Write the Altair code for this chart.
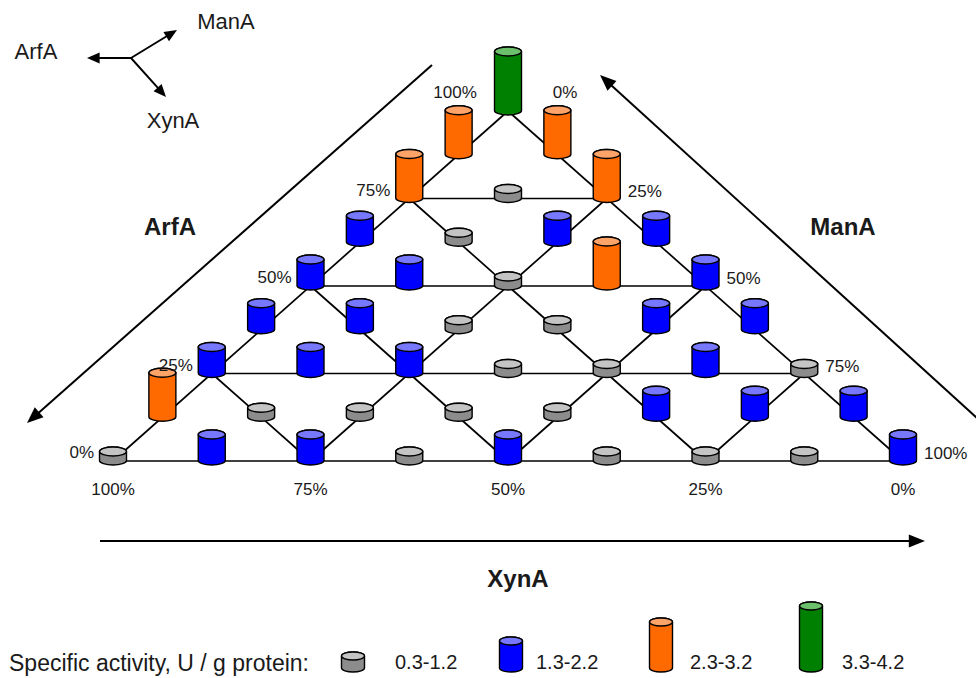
import math

import altair as alt
import pandas as pd

# ---------------------------------------------------------------------------
# Data: specific activity class of every mixture on the 1/8 simplex lattice.
# Rows run from ArfA = 0 % (bottom edge) to ArfA = 100 % (apex); inside a row
# ManA rises from 0 % (left) in 12.5 % steps, XynA makes up the rest.
# ---------------------------------------------------------------------------
CLASSES = ["0.3-1.2", "1.3-2.2", "2.3-3.2", "3.3-4.2"]
G, B, O, V = CLASSES

ACTIVITY_ROWS = [
    [G, B, B, G, B, G, G, G, B],   # ArfA 0 %
    [O, G, G, G, G, B, B, B],      # ArfA 12.5 %
    [B, B, B, G, G, B, G],         # ArfA 25 %
    [B, B, G, G, B, B],            # ArfA 37.5 %
    [B, B, G, O, B],               # ArfA 50 %
    [B, G, B, B],                  # ArfA 62.5 %
    [O, G, O],                     # ArfA 75 %
    [O, O],                        # ArfA 87.5 %
    [V],                           # ArfA 100 %
]
STEP = 12.5

XYNA_TICKS = [100, 75, 50, 25, 0]   # bottom edge, left to right
ARFA_TICKS = [0, 25, 50, 75, 100]   # left edge, bottom to apex
MANA_TICKS = [100, 75, 50, 25, 0]   # right edge, bottom to apex
GRID_LEVELS = [0, 25, 50, 75]

# ---------------------------------------------------------------------------
# Layout and style
# ---------------------------------------------------------------------------
WIDTH, HEIGHT = 976, 678
X0, Y0 = 113, 461          # canvas position of the XynA = 100 % corner
SIDE_W, SIDE_H = 790, 350  # horizontal span and height of the triangle

BODY_COLOR = {G: "#8c8c8c", B: "#0000ff", O: "#ff6a00", V: "#008000"}
TOP_COLOR = {G: "#c4c4c4", B: "#7878ff", O: "#ffa468", V: "#6cc06c"}

FONT = "Liberation Sans, Arial, sans-serif"
TEXT_COLOR = "#1a1a1a"


def tern(arfa, mana):
    """Composition (percent) -> plot units of the triangle."""
    return (mana + arfa / 2) / 100, arfa / 100


def at(px, py):
    """Canvas pixel position -> plot units (for annotations)."""
    return (px - X0) / SIDE_W, (Y0 - py) / SIDE_H


def cylinder(rx, ry, h, drop):
    """SVG paths (body, top ellipse) of an upright cylinder whose base
    sits `drop` px below the anchor point; normalised by rx."""
    k = 0.5523
    yb = drop - ry
    yt = yb - h

    def p(x, y):
        return f"{x / rx:.4f},{y / rx:.4f}"

    body = (f"M{p(-rx, yt)} L{p(-rx, yb)} "
            f"C{p(-rx, yb + k * ry)} {p(-k * rx, yb + ry)} {p(0, yb + ry)} "
            f"C{p(k * rx, yb + ry)} {p(rx, yb + k * ry)} {p(rx, yb)} "
            f"L{p(rx, yt)} "
            f"C{p(rx, yt - k * ry)} {p(k * rx, yt - ry)} {p(0, yt - ry)} "
            f"C{p(-k * rx, yt - ry)} {p(-rx, yt - k * ry)} {p(-rx, yt)} Z")
    top = (f"M{p(-rx, yt)} "
           f"C{p(-rx, yt + k * ry)} {p(-k * rx, yt + ry)} {p(0, yt + ry)} "
           f"C{p(k * rx, yt + ry)} {p(rx, yt + k * ry)} {p(rx, yt)} "
           f"C{p(rx, yt - k * ry)} {p(k * rx, yt - ry)} {p(0, yt - ry)} "
           f"C{p(-k * rx, yt - ry)} {p(-rx, yt - k * ry)} {p(-rx, yt)} Z")
    return body, top, 4 * rx * rx


PLOT_HEIGHTS = {G: 9, B: 26, O: 44, V: 59}
LEGEND_HEIGHTS = {G: 12, B: 27, O: 46, V: 62}
PLOT_SHAPES = {c: cylinder(13.5, 4.5, PLOT_HEIGHTS[c], 4) for c in CLASSES}
LEGEND_SHAPES = {c: cylinder(11.5, 4, LEGEND_HEIGHTS[c], 0) for c in CLASSES}

# ---------------------------------------------------------------------------
# Tables
# ---------------------------------------------------------------------------
nodes = []
for r, row in enumerate(ACTIVITY_ROWS):
    for k, cls in enumerate(row):
        arfa, mana = r * STEP, k * STEP
        u, v = tern(arfa, mana)
        body, top, size = PLOT_SHAPES[cls]
        nodes.append(dict(u=u, v=v, cls=cls, ArfA=arfa, ManA=mana,
                          XynA=100 - arfa - mana, body=body, top=top,
                          size=size, fill=BODY_COLOR[cls],
                          topfill=TOP_COLOR[cls]))
nodes = pd.DataFrame(nodes)

legend_x = [353, 511, 661, 811]
legend_text_x = [395, 536, 690, 842]
legend_items = []
for cls, px, tx in zip(CLASSES, legend_x, legend_text_x):
    u, v = at(px, 672)
    tu, tv = at(tx, 663)
    body, top, size = LEGEND_SHAPES[cls]
    legend_items.append(dict(u=u, v=v, tu=tu, tv=tv, label=cls, body=body,
                             top=top, size=size, fill=BODY_COLOR[cls],
                             topfill=TOP_COLOR[cls]))
legend_items = pd.DataFrame(legend_items)

# Lattice lines at 25 % spacing, parallel to each side of the triangle
segments = []
for t in GRID_LEVELS:
    ends = [((t, 0), (t, 100 - t)),              # ArfA = t
            ((0, t), (100 - t, t)),              # ManA = t
            ((0, 100 - t), (100 - t, 0))]        # XynA = t
    for (a1, m1), (a2, m2) in ends:
        u1, v1 = tern(a1, m1)
        u2, v2 = tern(a2, m2)
        segments.append(dict(u=u1, v=v1, u2=u2, v2=v2))
segments = pd.DataFrame(segments)


def label_table(points):
    rows = []
    for arfa, mana, text in points:
        u, v = tern(arfa, mana)
        rows.append(dict(u=u, v=v, text=text))
    return pd.DataFrame(rows)


bottom_labels = label_table([(0, 100 - x, f"{x}%") for x in XYNA_TICKS])
left_labels = label_table([(a, 0, f"{a}%") for a in ARFA_TICKS[:-1]])
right_labels = label_table([(100 - m, m, f"{m}%") for m in MANA_TICKS[:-1]])
apex_left = label_table([(100, 0, f"{ARFA_TICKS[-1]}%")])
apex_right = label_table([(100, 0, f"{MANA_TICKS[-1]}%")])


def arrows(specs, head_len):
    """Shafts and heads for arrows given as canvas (start, tip) pairs."""
    shafts, heads = [], []
    for (sx, sy), (ex, ey) in specs:
        dx, dy = ex - sx, ey - sy
        length = math.hypot(dx, dy)
        cut = head_len * 0.6 / length
        u1, v1 = at(sx, sy)
        u2, v2 = at(ex - dx * cut, ey - dy * cut)
        shafts.append(dict(u=u1, v=v1, u2=u2, v2=v2))
        hu, hv = at(ex, ey)
        ang = math.degrees(math.atan2(dx, -dy)) % 360
        heads.append(dict(u=hu, v=hv, angle=ang))
    return pd.DataFrame(shafts), pd.DataFrame(heads)


big_shafts, big_heads = arrows([((432, 65), (27, 423)),
                                ((978, 419), (600, 75)),
                                ((100, 541), (925, 541))], 16)
key_shafts, key_heads = arrows([((131, 58), (87, 58)),
                                ((131, 58), (177, 30)),
                                ((131, 58), (166, 97))], 13)

# ---------------------------------------------------------------------------
# Chart
# ---------------------------------------------------------------------------
xs = alt.Scale(domain=[-X0 / SIDE_W, (WIDTH - X0) / SIDE_W], nice=False, zero=False)
ys = alt.Scale(domain=[(Y0 - HEIGHT) / SIDE_H, Y0 / SIDE_H], nice=False, zero=False)
X = alt.X("u:Q", scale=xs, axis=None)
Y = alt.Y("v:Q", scale=ys, axis=None)

grid = alt.Chart(segments).mark_rule(color="black", strokeWidth=1.7).encode(
    x=X, y=Y, x2="u2:Q", y2="v2:Q")


def cylinders(df, stroke_width):
    body = alt.Chart(df).mark_point(filled=True, opacity=1, stroke="black",
                                    strokeWidth=stroke_width).encode(
        x=X, y=Y,
        shape=alt.Shape("body:N", scale=None),
        fill=alt.Fill("fill:N", scale=None),
        size=alt.Size("size:Q", scale=None))
    top = alt.Chart(df).mark_point(filled=True, opacity=1, stroke="black",
                                   strokeWidth=stroke_width).encode(
        x=X, y=Y,
        shape=alt.Shape("top:N", scale=None),
        fill=alt.Fill("topfill:N", scale=None),
        size=alt.Size("size:Q", scale=None))
    return body + top


def texts(df, size=17, align="center", dx=0, dy=0, weight="normal"):
    return alt.Chart(df).mark_text(
        fontSize=size, align=align, baseline="middle", dx=dx, dy=dy,
        fontWeight=weight, font=FONT, color=TEXT_COLOR).encode(
        x=X, y=Y, text="text:N")


HEAD_BIG = "M0,0 L-0.55,1.35 L0.55,1.35 Z"
HEAD_KEY = "M0,0 L-0.6,1.4 L0.6,1.4 Z"


def arrow_layer(shafts, heads, width, shape, size):
    s = alt.Chart(shafts).mark_rule(color="black", strokeWidth=width).encode(
        x=X, y=Y, x2="u2:Q", y2="v2:Q")
    h = alt.Chart(heads).mark_point(shape=shape, filled=True, opacity=1,
                                    color="black", size=size).encode(
        x=X, y=Y, angle=alt.Angle("angle:Q", scale=None))
    return s + h


def pos_text(items, size, weight="normal", align="center"):
    rows = []
    for text, (px, py) in items:
        u, v = at(px, py)
        rows.append(dict(u=u, v=v, text=text))
    return texts(pd.DataFrame(rows), size=size, weight=weight, align=align)


side_titles = pos_text([("ArfA", (170, 228)), ("ManA", (843, 228)),
                        ("XynA", (518, 580))], 24, weight="bold")
key_titles = pos_text([("ArfA", (36, 52)), ("ManA", (226, 22)),
                       ("XynA", (173, 121))], 22)
legend_title = pos_text([("Specific activity, U / g protein:", (9, 664))],
                        23, align="left")

legend_labels = alt.Chart(legend_items).mark_text(
    fontSize=20, align="left", baseline="middle", font=FONT,
    color=TEXT_COLOR).encode(
    x=alt.X("tu:Q", scale=xs, axis=None), y=alt.Y("tv:Q", scale=ys, axis=None),
    text="label:N")

chart = alt.layer(
    grid,
    cylinders(nodes, 1.4),
    texts(bottom_labels, dy=29),
    texts(left_labels, align="right", dx=-19, dy=-8),
    texts(right_labels, align="left", dx=21, dy=-7),
    texts(apex_left, dx=-53, dy=-18),
    texts(apex_right, dx=57, dy=-18),
    arrow_layer(big_shafts, big_heads, 2, HEAD_BIG, 576),
    arrow_layer(key_shafts, key_heads, 1.9, HEAD_KEY, 324),
    side_titles,
    key_titles,
    legend_title,
    cylinders(legend_items, 1.4),
    legend_labels,
).properties(
    width=WIDTH, height=HEIGHT, padding=0, autosize=alt.AutoSizeParams(type="none"),
    background="white",
).configure_view(stroke=None)

chart.save("out.html", embed_options={"renderer": "svg", "actions": False})
